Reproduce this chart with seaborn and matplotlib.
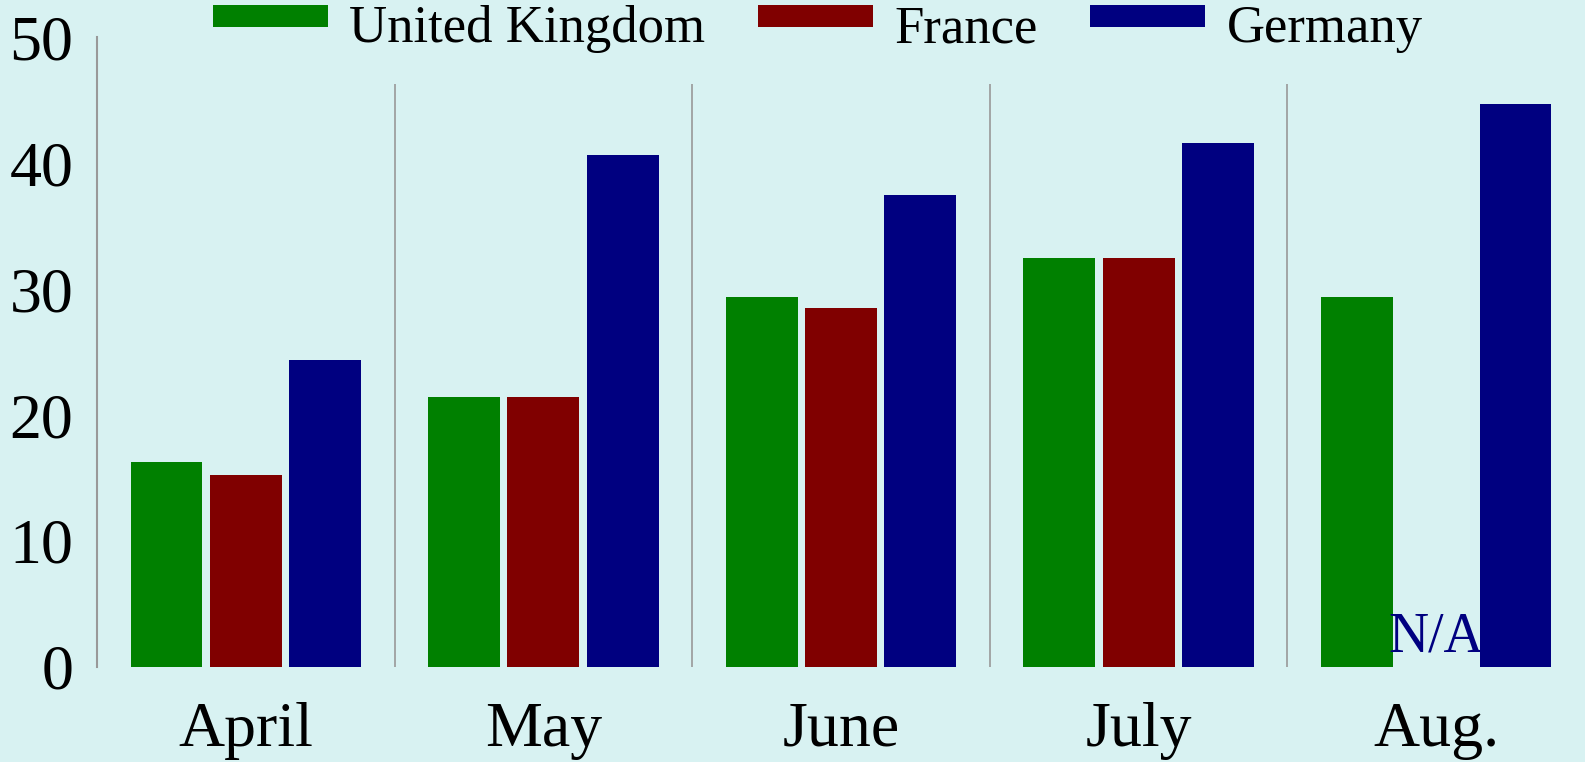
import pandas as pd
import numpy as np
import seaborn as sns
import matplotlib.pyplot as plt
from matplotlib.patches import Rectangle
from matplotlib.legend_handler import HandlerPatch

# values
months = ['April', 'May', 'June', 'July', 'Aug.']
countries = ['United Kingdom', 'France', 'Germany']
uk = [16.3, 21.4, 29.4, 32.5, 29.4]
france = [15.2, 21.4, 28.5, 32.5, np.nan]           # no August figure for France
germany = [24.4, 40.6, 37.5, 41.6, 44.7]
colors = ['#008000', '#800000', '#000080']
bg = '#d8f2f2'

df = pd.DataFrame({'month': months * 3,
                   'country': np.repeat(countries, len(months)),
                   'value': uk + france + germany})

sns.set_theme(style='white')
plt.rcParams['font.family'] = ['Liberation Serif', 'DejaVu Serif']
plt.rcParams['text.color'] = 'black'

fig = plt.figure(figsize=(15.85, 7.62), dpi=100, facecolor=bg)
ax = fig.add_axes([0.0612, 0.1247, 1 - 0.0612, 0.9514 - 0.1247])
ax.set_facecolor(bg)

sns.barplot(data=df, x='month', y='value', hue='country', order=months, hue_order=countries,
            palette=colors, saturation=1, width=0.8, gap=0.095, errorbar=None,
            linewidth=0, edgecolor='none', ax=ax)

ax.set_xlim(-0.5, len(months) - 0.5)
ax.set_ylim(0, 50)
ax.set_yticks(range(0, 51, 10))
ax.set_xlabel('')
ax.set_ylabel('')

# spines: only the grey left line
for s in ['top', 'right', 'bottom']:
    ax.spines[s].set_visible(False)
ax.spines['left'].set_color('#999999')
ax.spines['left'].set_linewidth(1.5)

# grey separators between the months
ax.vlines(np.arange(len(months) - 1) + 0.5, 0, 46.3, color='#999999', linewidth=1.2)

ax.tick_params(axis='both', length=0, labelsize=46, colors='black')
ax.tick_params(axis='y', pad=17)
ax.tick_params(axis='x', pad=25)

# missing value marker
ax.text(4, 0.3, 'N/A', color='#000080', fontsize=40, ha='center', va='bottom')


# legend swatches sit high, level with the cap line of the text
def raised_patch(legend, orig_handle, xdescent, ydescent, width, height, fontsize):
    return Rectangle((-xdescent, -ydescent + 0.14 * fontsize), width, height)


handles, labels = ax.get_legend_handles_labels()
ax.get_legend().remove()
fig.legend(handles, labels, loc='upper center', bbox_to_anchor=(0.516, 1.0), ncol=3,
           frameon=False, fontsize=38, handlelength=2.18, handleheight=0.25,
           handletextpad=0.4, columnspacing=1.0, borderpad=0.1, borderaxespad=0.0,
           labelcolor='black',
           handler_map={Rectangle: HandlerPatch(patch_func=raised_patch)})

plt.savefig('out.png', dpi=100, facecolor=bg)
